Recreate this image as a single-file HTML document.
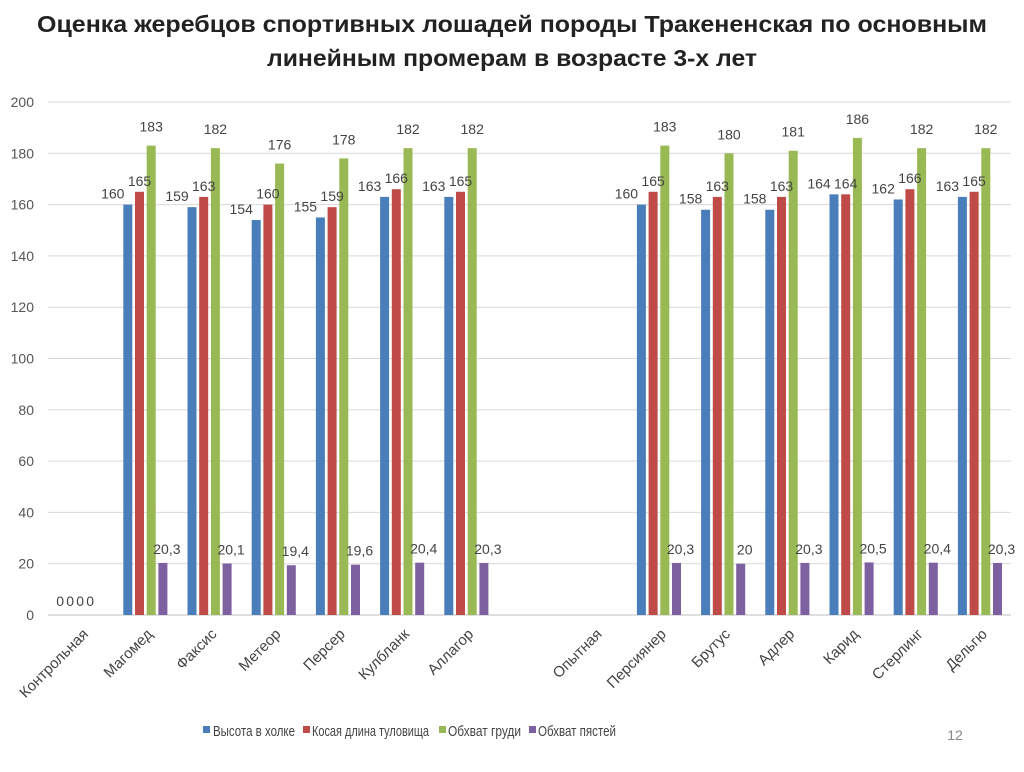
<!DOCTYPE html>
<html><head><meta charset="utf-8"><style>
body{margin:0;background:#fff;width:1024px;height:767px;overflow:hidden;font-family:"Liberation Sans",sans-serif}
</style></head><body>
<svg id="chart" width="1024" height="767" xmlns="http://www.w3.org/2000/svg" font-family="Liberation Sans, sans-serif">
<text x="512" y="32" text-anchor="middle" font-size="23" font-weight="bold" fill="#222" textLength="950" lengthAdjust="spacingAndGlyphs">Оценка жеребцов спортивных лошадей породы Тракененская по основным</text>
<text x="512" y="66" text-anchor="middle" font-size="23" font-weight="bold" fill="#222" textLength="490" lengthAdjust="spacingAndGlyphs">линейным промерам в возрасте 3-х лет</text>
<g id="grid"></g><g id="bars"></g><g id="labels"></g><g id="xlabels"></g>
<g font-size="15" fill="#444">
<rect x="203" y="726" width="7" height="7" fill="#4a7ebb"/>
<text x="213" y="736" textLength="82" lengthAdjust="spacingAndGlyphs">Высота в холке</text>
<rect x="303" y="726" width="7" height="7" fill="#be4b48"/>
<text x="312" y="736" textLength="117" lengthAdjust="spacingAndGlyphs">Косая длина туловища</text>
<rect x="439" y="726" width="7" height="7" fill="#98b954"/>
<text x="448" y="736" textLength="73" lengthAdjust="spacingAndGlyphs">Обхват груди</text>
<rect x="529" y="726" width="7" height="7" fill="#7d60a0"/>
<text x="538" y="736" textLength="78" lengthAdjust="spacingAndGlyphs">Обхват пястей</text>
</g>
<text x="955" y="740" font-size="14" fill="#888" text-anchor="middle">12</text>
</svg>
<script>
const categories=["Контрольная","Магомед","Факсис","Метеор","Персер","Кулбланк","Аллагор","","Опытная","Персиянер","Брутус","Адлер","Карид","Стерлинг","Дельгю"];
const heightVals=[0,160,159,154,155,163,163,null,null,160,158,158,164,162,163];
const lengthVals=[0,165,163,160,159,166,165,null,null,165,163,163,164,166,165];
const chestVals=[0,183,182,176,178,182,182,null,null,183,180,181,186,182,182];
const metaVals=[0,20.3,20.1,19.4,19.6,20.4,20.3,null,null,20.3,20,20.3,20.5,20.4,20.3];
const yTicks=[0,20,40,60,80,100,120,140,160,180,200];
const NS="http://www.w3.org/2000/svg";
const x0=48,x1=1011,yBase=615,yTop=102;
const step=(x1-x0)/categories.length;
const y=v=>yBase-(v/200)*(yBase-yTop);
const xc=i=>x0+step*(i+0.5);
function mk(tag,attrs,parent){const e=document.createElementNS(NS,tag);for(const k in attrs)e.setAttribute(k,attrs[k]);parent.appendChild(e);return e;}
const grid=document.getElementById('grid'),bars=document.getElementById('bars'),labels=document.getElementById('labels'),xl=document.getElementById('xlabels');
yTicks.forEach(t=>{
  const l=mk('line',{x1:x0,x2:x1,y1:y(t),y2:y(t),stroke:t===0?'#bfbfbf':'#d9d9d9','stroke-width':1},grid);
  
  
  const tx=mk('text',{x:34,y:y(t)+5,'text-anchor':'end','font-size':14,fill:'#555'},grid);
  tx.textContent=t;
  
  
});
const series=[[heightVals,'#4a7ebb','height',-15,-6],[lengthVals,'#be4b48','length',0,-6],[chestVals,'#98b954','chest',0,-14],[metaVals,'#7d60a0','metacarpus',0,-18]];
const bw=9,gap=11.7;
categories.forEach((c,i)=>{
  if(c){
    const t=mk('text',{'font-size':15,fill:'#444','text-anchor':'end',transform:`translate(${xc(i)+9},${635}) rotate(-45)`},xl);
    t.textContent=c;
    
    
  }
  series.forEach((s,si)=>{
    const v=s[0][i]; if(v===null)return;
    const bx=xc(i)-21+si*gap;
    if(v>0){
      const r=mk('rect',{x:bx,y:y(v),width:bw,height:yBase-y(v),fill:s[1]},bars);
      
      
      let lx=bx+bw/2+s[3], ly=y(v)+s[4];
      if(si===3){lx=bx+bw/2+4;ly=y(v)-9;}
      if(si===2){ly=y(v)-14;}
      const t=mk('text',{x:lx,y:ly,'text-anchor':'middle','font-size':14,fill:'#444'},labels);
      t.textContent=String(v).replace('.',',');
      
      
    } else {
      const t=mk('text',{x:xc(i)-20+si*10,y:606,'text-anchor':'middle','font-size':14,fill:'#444'},labels);
      t.textContent=String(v);
      
      
    }
  });
});
</script>
</body></html>
